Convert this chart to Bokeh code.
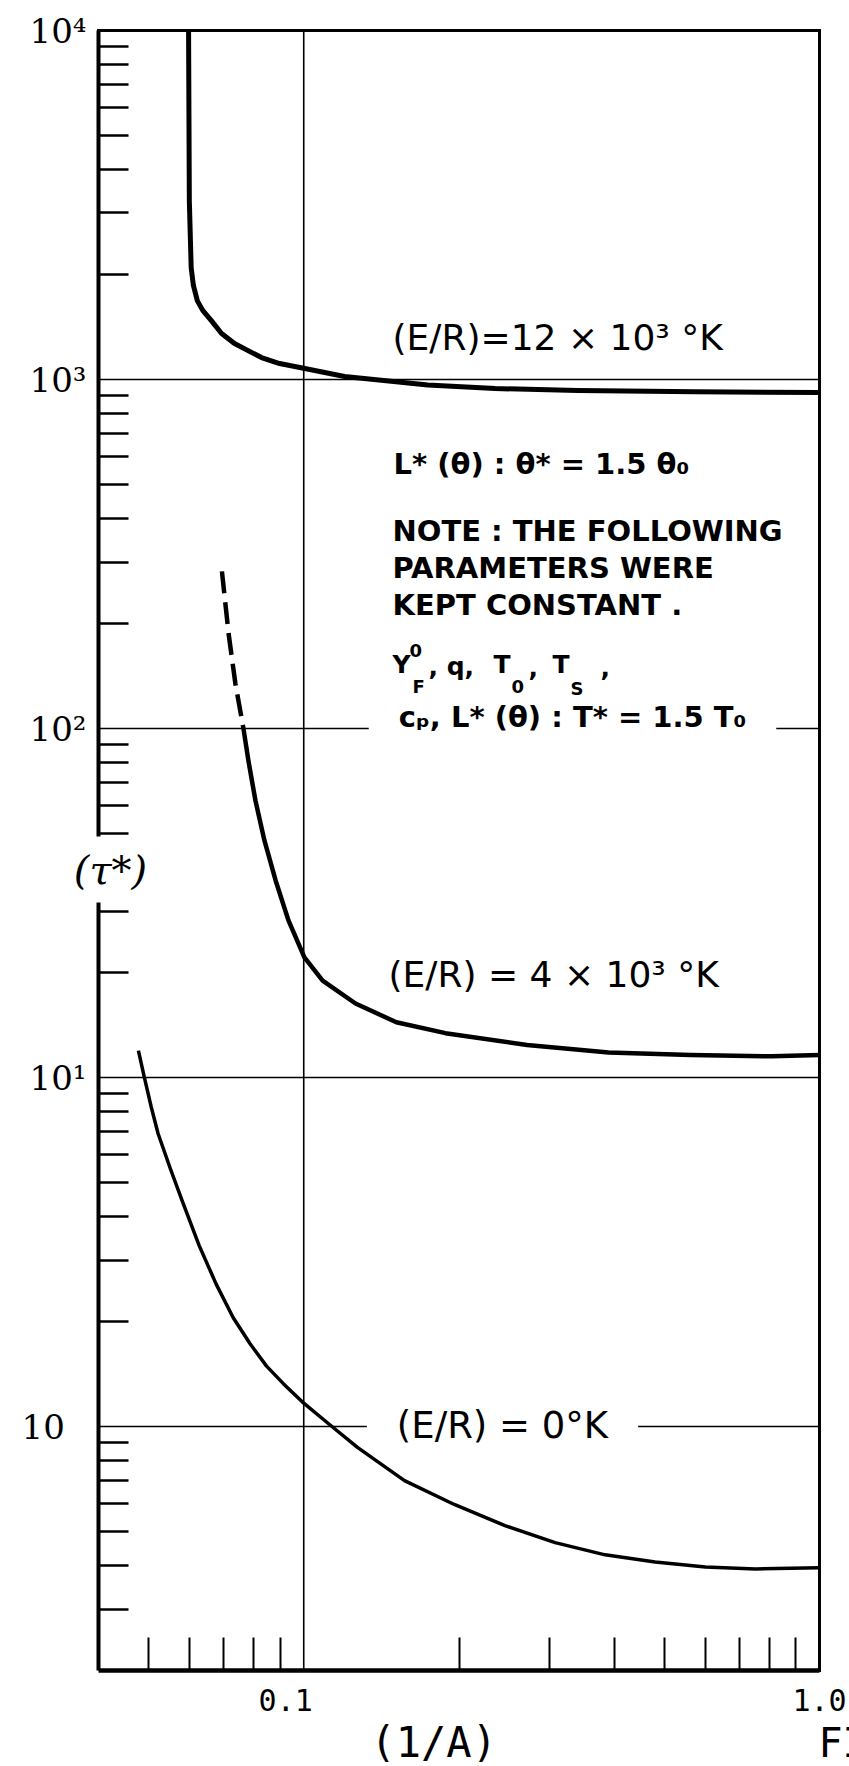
from math import log10

from bokeh.plotting import figure
from bokeh.models import FixedTicker, Label, Range1d
from bokeh.embed import file_html
from bokeh.resources import INLINE

# Ignition delay tau* against inverse area ratio (1/A), one curve per E/R
er12_x = [0.0598, 0.0600, 0.0605, 0.0611, 0.0622, 0.0637, 0.0662, 0.0693, 0.0734,
          0.0828, 0.0898, 0.1005, 0.120, 0.174, 0.235, 0.34, 0.574, 1.0]
er12_y = [10000, 3260, 2090, 1860, 1680, 1578, 1475, 1355, 1268,
          1156, 1111, 1075, 1020, 965, 942, 930, 922, 918]

# E/R = 4e3: the upper end is dashed, the rest solid
er4_dash_x = [0.0694, 0.0715, 0.0737, 0.0764]
er4_dash_y = [282, 187, 134.5, 100]
er4_x = [0.0764, 0.0781, 0.0806, 0.0839, 0.0882, 0.0934, 0.1003, 0.1088, 0.1260, 0.1512,
         0.1883, 0.271, 0.390, 0.563, 0.809, 1.0]
er4_y = [100, 81.0, 62.2, 47.8, 36.7, 28.2, 22.1, 18.96, 16.3, 14.4,
         13.4, 12.4, 11.8, 11.6, 11.5, 11.6]

er0_x = [0.0478, 0.0491, 0.0506, 0.0522, 0.0552, 0.0581, 0.0627, 0.0676, 0.0730, 0.0787,
         0.0847, 0.0914, 0.0992, 0.1128, 0.1271, 0.1568, 0.1963, 0.2456, 0.3072, 0.384,
         0.480, 0.601, 0.751, 1.0]
er0_y = [11.95, 10.0, 8.25, 6.90, 5.45, 4.44, 3.30, 2.564, 2.05, 1.726,
         1.49, 1.325, 1.179, 1.007, 0.872, 0.700, 0.597, 0.520, 0.465, 0.429,
         0.409, 0.396, 0.391, 0.394]

x_major = [0.1, 1.0]
x_tick_labels = ["0.1\u2007\u2007", "1.0"]
x_minor = [0.05, 0.06, 0.07, 0.08, 0.09, 0.2, 0.3, 0.4, 0.5, 0.6, 0.7, 0.8, 0.9]

y_major = [1, 10, 100, 1000, 10000]
y_tick_labels = ["10\u2007", "10¹", "10²", "10³", "10⁴"]
y_minor = [round(m * 10.0 ** k, 6) for k in range(-1, 4) for m in range(2, 10)
           if m * 10.0 ** k > 0.25]

# page size and the box (in page pixels) that holds the log-log grid
W, H = 849, 1766
BOX_L, BOX_R, BOX_T, BOX_B = 98, 819, 30, 1670
X_LO, X_HI = 0.04, 1.0
Y_LO, Y_HI = 0.2, 1e4

# the frame fills the page; the ranges are widened so the box lands where wanted
dec_x = (BOX_R - BOX_L) / log10(X_HI / X_LO)
dec_y = (BOX_B - BOX_T) / log10(Y_HI / Y_LO)
x_range = Range1d(10 ** (log10(X_LO) - BOX_L / dec_x), 10 ** (log10(X_HI) + (W - BOX_R) / dec_x))
y_range = Range1d(10 ** (log10(Y_LO) - (H - BOX_B) / dec_y), 10 ** (log10(Y_HI) + BOX_T / dec_y))

p = figure(width=W, height=H, x_axis_type="log", y_axis_type="log",
           x_range=x_range, y_range=y_range,
           output_backend="svg", toolbar_location=None,
           min_border=0, min_border_left=0, min_border_right=0,
           min_border_top=0, min_border_bottom=0)
p.background_fill_color = "white"
p.border_fill_color = "white"
p.outline_line_color = None
p.xgrid.visible = False
p.ygrid.visible = False

# axes pinned to the box edges; minor ticks point into the box
xa = p.xaxis[0]
xa.fixed_location = Y_LO
xa.bounds = (X_LO, X_HI)
xa.ticker = FixedTicker(ticks=x_major, minor_ticks=x_minor)
xa.major_label_overrides = dict(zip(x_major, x_tick_labels))
xa.major_tick_in = 0
xa.major_tick_out = 0
xa.minor_tick_in = 33
xa.minor_tick_out = 0
xa.minor_tick_line_width = 2
xa.minor_tick_line_color = "black"
xa.axis_line_width = 4.5
xa.axis_line_color = "black"
xa.major_label_text_font = "DejaVu Sans Mono"
xa.major_label_text_font_size = "30px"
xa.major_label_text_color = "black"
xa.major_label_standoff = 12

ya = p.yaxis[0]
ya.fixed_location = X_LO
ya.bounds = (Y_LO, Y_HI)
ya.ticker = FixedTicker(ticks=y_major, minor_ticks=y_minor)
ya.major_label_overrides = dict(zip(y_major, y_tick_labels))
ya.major_tick_in = 0
ya.major_tick_out = 0
ya.minor_tick_in = 30
ya.minor_tick_out = 0
ya.minor_tick_line_width = 2.5
ya.minor_tick_line_color = "black"
ya.axis_line_width = 4
ya.axis_line_color = "black"
ya.major_label_text_font = "DejaVu Serif"
ya.major_label_text_font_size = "34px"
ya.major_label_text_color = "black"
ya.major_label_standoff = 12

# decade rules, the 0.1 rule, and the top/right edges of the box
rules_y = y_major[:-1]
p.segment(x0=[X_LO] * len(rules_y), x1=[X_HI] * len(rules_y), y0=rules_y, y1=rules_y,
          line_color="black", line_width=1.6)
p.segment(x0=[x_major[0]], x1=[x_major[0]], y0=[Y_LO], y1=[Y_HI],
          line_color="black", line_width=1.6)
p.segment(x0=[X_LO, X_HI], x1=[X_HI, X_HI], y0=[Y_HI, Y_LO], y1=[Y_HI, Y_HI],
          line_color="black", line_width=3, line_cap="square")

p.line(er12_x, er12_y, line_color="black", line_width=5, line_join="round")
p.line(er4_dash_x, er4_dash_y, line_color="black", line_width=4.5, line_dash="22 9")
p.line(er4_x, er4_y, line_color="black", line_width=4.5, line_join="round")
p.line(er0_x, er0_y, line_color="black", line_width=3.5, line_join="round")


def note(text, cx, cy, size, font="DejaVu Sans", style="normal", align="left",
         bg=None, pad=0):
    """Place a text at page pixel (cx, cy), measured from the top left."""
    kw = {}
    if bg is not None:
        kw.update(background_fill_color=bg, background_fill_alpha=1.0, padding=pad)
    p.add_layout(Label(x=cx, y=H - cy, x_units="screen", y_units="screen",
                       text=text, text_font=font, text_font_size=f"{size}px",
                       text_font_style=style, text_color="black",
                       text_align=align, text_baseline="middle", **kw))


note("(E/R)=12 × 10³ °K", 392, 337, 36)
note("L* (θ) : θ* = 1.5 θ₀", 393, 463, 29, style="bold")
note("NOTE : THE FOLLOWING", 392, 530, 29, style="bold")
note("PARAMETERS WERE", 392, 567, 29, style="bold")
note("KEPT CONSTANT .", 392, 604, 29, style="bold")

# Y with stacked super/subscript, then the other held quantities
note("Y", 392, 664, 25, style="bold")
note("0", 409, 650, 18, style="bold")
note("F", 412, 686, 18, style="bold")
note(", q,", 428, 666, 25, style="bold")
note("T", 493, 664, 25, style="bold")
note("0", 511, 686, 18, style="bold")
note(",", 528, 666, 25, style="bold")
note("T", 552, 664, 25, style="bold")
note("S", 570, 688, 18, style="bold")
note(",", 600, 666, 25, style="bold")

note("cₚ, L* (θ) : T* = 1.5 T₀", 572, 716, 29, style="bold", align="center",
     bg="white", pad=(30, 4))

note("(E/R) = 4 × 10³ °K", 388, 974, 36)
note("(E/R) = 0°K", 502, 1425, 37, align="center", bg="white", pad=(30, 4))

note("(τ*)", 110, 869, 40, font="DejaVu Serif", style="italic", align="center",
     bg="white", pad=(6, 10))

note("(1/A)", 370, 1742, 42, font="DejaVu Sans Mono")
note("FI", 818, 1742, 40, font="DejaVu Sans Mono")

open("out.html", "w").write(file_html(p, INLINE))
